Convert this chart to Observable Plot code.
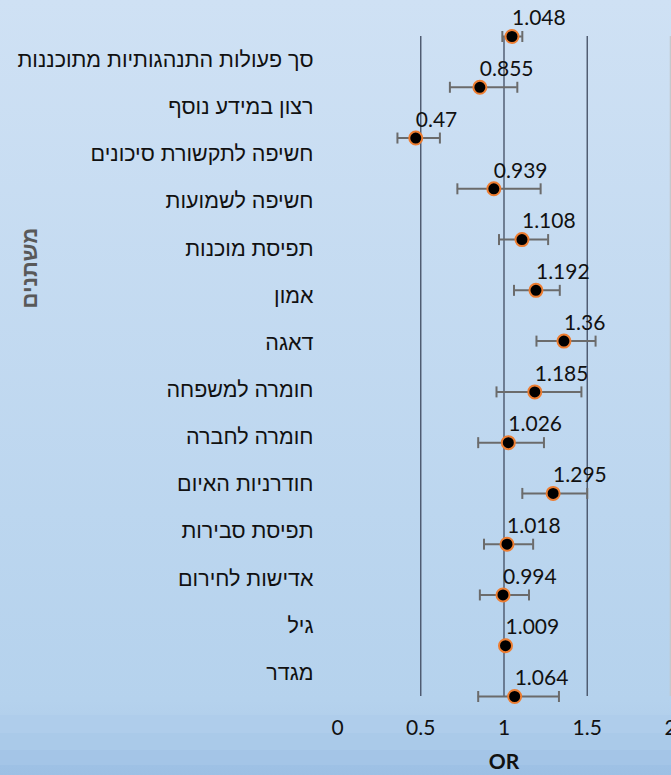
<!DOCTYPE html>
<html>
<head>
<meta charset="utf-8">
<script src="https://cdn.jsdelivr.net/npm/d3@7"></script>
<script src="https://cdn.jsdelivr.net/npm/@observablehq/plot@0.6"></script>
<style>
  html, body { margin: 0; padding: 0; }
  body {
    width: 671px; height: 775px; overflow: hidden;
    background: linear-gradient(to bottom,
      #cfe1f4 0px, #b5d2ed 700px,
      #b3d0ec 715px, #afcdeb 715px, #afcdeb 733px,
      #aacae9 733px, #aacae9 750px,
      #a4c5e7 750px, #a4c5e7 765px,
      #9ec1e5 765px, #9dc0e4 775px);
  }
  #chart svg { display: block; }
</style>
</head>
<body>
<div id="chart"></div>
<script>
const labels = ["סך פעולות התנהגותיות מתוכננות","רצון במידע נוסף","חשיפה לתקשורת סיכונים","חשיפה לשמועות","תפיסת מוכנות","אמון","דאגה","חומרה למשפחה","חומרה לחברה","חודרניות האיום","תפיסת סבירות","אדישות לחירום","גיל","מגדר"];
const orValues = [1.048,0.855,0.47,0.939,1.108,1.192,1.36,1.185,1.026,1.295,1.018,0.994,1.009,1.064];
const ciLow  = [0.99,0.675,0.36,0.72,0.97,1.06,1.195,0.955,0.845,1.11,0.88,0.855,0.99,0.845];
const ciHigh = [1.11,1.08,0.615,1.22,1.265,1.335,1.55,1.465,1.24,1.50,1.175,1.15,1.03,1.33];
const xTicks = [0,0.5,1,1.5,2];
const gridLines = [0.5,1,1.5];
const edgeLine = [2];
const xTitle = "OR";
const yTitle = "משתנים";

const n = labels.length;
const data = orValues.map((v, i) => ({rank: i + 1, or: v, lo: ciLow[i], hi: ciHigh[i]}));
const labelPos = labels.map((l, i) => 1 + (i + 0.5) * (n - 1) / n);
const labelMap = new Map(labelPos.map((p, i) => [p, labels[i]]));

const cap = { draw(ctx, size) { const h = Math.sqrt(size / Math.PI); ctx.moveTo(0, -h); ctx.lineTo(0, h); } };

const numFont = "Lato, 'Open Sans', sans-serif";
const hebFont = "'Liberation Sans', Arial, sans-serif";

const chart = Plot.plot({
  width: 671,
  height: 775,
  marginLeft: 337,
  marginRight: 1,
  marginTop: 36,
  marginBottom: 79,
  style: {background: "transparent", overflow: "visible", fontFamily: numFont},
  x: {domain: [0, 2]},
  y: {domain: [1, n], reverse: true},
  marks: [
    Plot.ruleX(edgeLine, {stroke: "#c4c8cc", strokeWidth: 1.5}),
    Plot.ruleX(gridLines, {stroke: "#4a566b", strokeWidth: 1.4}),
    Plot.axisX(xTicks, {tickSize: 0, tickPadding: 24, fontSize: 21, fill: "#111", fontFamily: numFont, tickFormat: d => String(d), label: null}),
    Plot.axisY(labelPos, {tickSize: 0, tickPadding: 24, fontSize: 21.5, fill: "#111", fontFamily: hebFont, tickFormat: d => labelMap.get(d), label: null}),
    Plot.ruleY(data, {y: "rank", x1: "lo", x2: "hi", stroke: "#6b6b6b", strokeWidth: 2}),
    Plot.dot(data, {x: "lo", y: "rank", symbol: cap, r: 5.5, stroke: "#6b6b6b", strokeWidth: 2}),
    Plot.dot(data, {x: "hi", y: "rank", symbol: cap, r: 5.5, stroke: "#6b6b6b", strokeWidth: 2}),
    Plot.dot(data, {x: "or", y: "rank", r: 6.5, fill: "black", stroke: "#ed7d31", strokeWidth: 2}),
    Plot.text(data, {x: "or", y: "rank", text: d => String(d.or), textAnchor: "start", dx: 0, dy: -18, fontSize: 21, fill: "#111", fontFamily: numFont}),
    Plot.text([xTitle], {frameAnchor: "bottom", dy: 72, fontSize: 21, fontWeight: "bold", fill: "#111", fontFamily: numFont}),
    Plot.text([yTitle], {frameAnchor: "top-left", dx: -316, dy: 272, rotate: -90, fontSize: 22, fontWeight: "bold", fill: "#595959", fontFamily: hebFont})
  ]
});
document.getElementById("chart").appendChild(chart);
</script>
</body>
</html>
